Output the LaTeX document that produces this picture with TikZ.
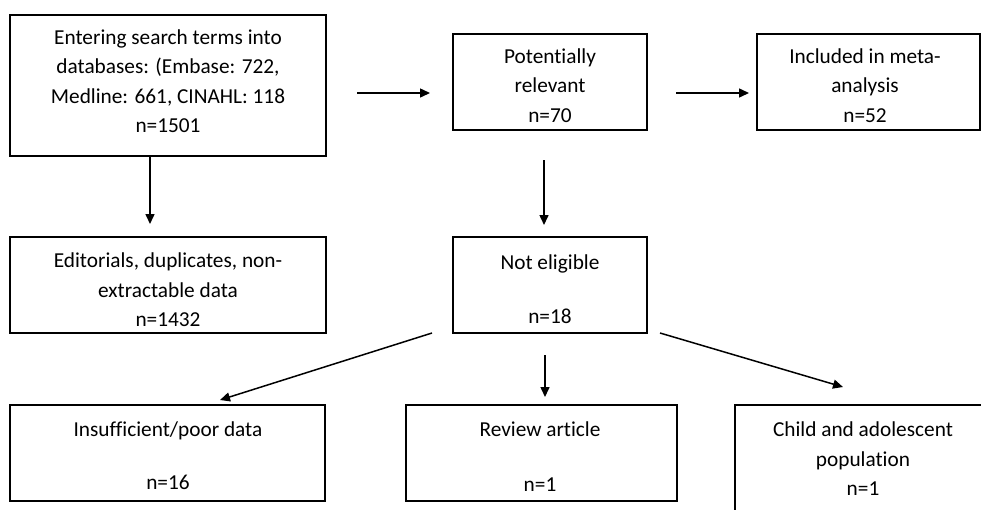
\documentclass[tikz,border=0pt]{standalone}
\usepackage{fontspec}
\setmainfont[Ligatures={NoCommon}]{Carlito}
\usetikzlibrary{arrows.meta}
\begin{document}
\begin{tikzpicture}[x=1pt,y=-1pt,
  box/.style={draw=black,line width=1.5pt,rectangle,inner sep=0pt,outer sep=0pt},
  txt/.style={align=center,inner sep=0pt,font=\fontsize{21.3}{29.5}\selectfont},
  arr/.style={line width=1.5pt,-{Triangle[length=10pt,width=9pt]}}]
\clip (0,0) rectangle (981,509);
\fill[white] (0,0) rectangle (981,509);
% boxes
\node[box,minimum width=316pt,minimum height=141pt] (b1) at (168,85.5) {};
\node[box,minimum width=194pt,minimum height=96pt] (b2) at (550,82) {};
\node[box,minimum width=223pt,minimum height=96pt] (b3) at (868.5,82) {};
\node[box,minimum width=316pt,minimum height=96pt] (b4) at (168,285) {};
\node[box,minimum width=194pt,minimum height=96pt] (b5) at (550,285) {};
\node[box,minimum width=315pt,minimum height=96pt] (b6) at (167.5,453) {};
\node[box,minimum width=271pt,minimum height=96pt] (b7) at (541.5,453) {};
\node[box,minimum width=260pt,minimum height=115pt] (b8) at (865,462.5) {};
% texts
\node[txt] (t1) at (168,81) {Entering search terms into\\databases: (Embase: 722,\\Medline: 661, CINAHL: 118\\n=1501};
\node[txt] (t2) at (550,85.5) {Potentially\\relevant\\n=70};
\node[txt] (t3) at (865,85.5) {Included in meta-\\analysis\\n=52};
\node[txt] (t4) at (168,290) {Editorials, duplicates, non-\\extractable data\\n=1432};
\node[txt] (t5) at (550,289) {Not eligible\\[25pt]n=18};
\node[txt] (t6) at (168,455.5) {Insufficient/poor data\\[24pt]n=16};
\node[txt] (t7) at (540,456.5) {Review article\\[25pt]n=1};
\node[txt] (t8) at (863,459) {Child and adolescent\\population\\n=1};
% connectors
\draw[arr,shorten <=31pt,shorten >=23pt] ([yshift=-7.5pt]b1.east) -- ([yshift=-11pt]b2.west);
\draw[arr,shorten <=29pt,shorten >=8pt] ([yshift=-11pt]b2.east) -- ([yshift=-11pt]b3.west);
\draw[arr,shorten >=13pt] ([xshift=-18pt]b1.south) -- ([xshift=-18pt]b4.north);
\draw[arr,shorten <=30pt,shorten >=12pt] ([xshift=-6pt]b2.south) -- ([xshift=-6pt]b5.north);
\draw[arr] ([xshift=-21pt]b5.south west) -- ([xshift=52.5pt,yshift=5pt]b6.north);
\draw[arr,shorten <=22pt,shorten >=8pt] ([xshift=-5pt]b5.south) -- ([xshift=3.5pt]b7.north);
\draw[arr] ([xshift=13pt]b5.south east) -- ([xshift=-22pt,yshift=18pt]b8.north);
\end{tikzpicture}
\end{document}
